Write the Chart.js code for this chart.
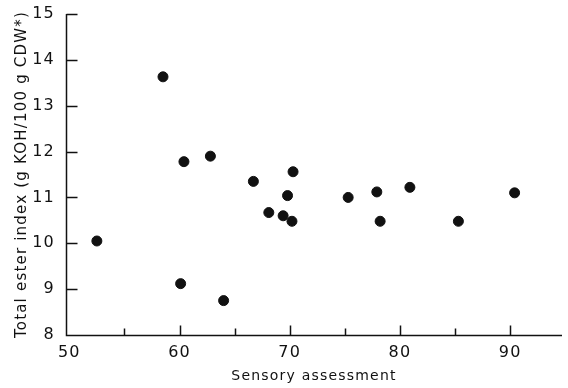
<!DOCTYPE html>
<html>
<head>
<meta charset="utf-8">
<script src="https://cdn.jsdelivr.net/npm/chart.js@4/dist/chart.umd.min.js"></script>
<style>
  html, body { margin: 0; padding: 0; background: #fff; }
  #wrap { width: 568px; height: 388px; }
</style>
</head>
<body>
<div id="wrap"><canvas id="chart"></canvas></div>
<script>
// data
const sensory = [52.5, 58.5, 60.4, 60.1, 62.8, 64.0, 66.7, 68.1, 69.4, 69.8, 70.2, 70.3, 75.3, 77.9, 78.2, 80.9, 85.3, 90.4]
const esterIndex = [10.05, 13.63, 11.78, 9.12, 11.9, 8.75, 11.35, 10.67, 10.6, 11.04, 10.48, 11.56, 11.0, 11.12, 10.48, 11.22, 10.48, 11.1]

const xTicks = [50, 55, 60, 65, 70, 75, 80, 85, 90]
const xLabels = [50, 60, 70, 80, 90]
const xTitle = "Sensory assessment"
const yTitle = "Total ester index (g KOH/100 g CDW*)"

const points = sensory.map((x, i) => ({x: x, y: esterIndex[i]}))

const ink = "#111"
const font = "'DejaVu Sans', sans-serif"

// nearest whole number, or null when the tick is an odd bound
function whole(v) {
    const r = Math.round(v)
    return Math.abs(v - r) < 1e-6 ? r : null
}

// the print has loosely tracked lettering
const tracking = {
    id: "tracking",
    beforeLayout(chart) { chart.ctx.letterSpacing = "1.2px" },
    beforeDraw(chart) { chart.ctx.letterSpacing = "1.2px" }
}

// axis lines, with ticks pointing into the plot like the printed figure
const axesAndTicks = {
    id: "axesAndTicks",
    afterDraw(chart) {
        const ctx = chart.ctx
        const xs = chart.scales.x
        const ys = chart.scales.y
        const left = ys.right + 0.5
        const bottom = xs.top + 0.5
        ctx.save()
        ctx.strokeStyle = ink
        ctx.lineWidth = 1.5
        ctx.beginPath()
        ctx.moveTo(left, ys.top)
        ctx.lineTo(left, bottom)
        ctx.lineTo(xs.right, bottom)
        xs.ticks.forEach(t => {
            const v = whole(t.value)
            if (v === null || v === 50) return
            const px = Math.round(xs.getPixelForValue(v)) + 0.5
            const len = xLabels.includes(v) ? 10 : 7
            ctx.moveTo(px, bottom)
            ctx.lineTo(px, bottom - len)
        })
        ys.ticks.forEach(t => {
            const py = Math.round(ys.getPixelForValue(t.value)) + 0.5
            ctx.moveTo(left, py)
            ctx.lineTo(left + 11, py)
        })
        ctx.stroke()
        ctx.restore()
    }
}

new Chart(document.getElementById("chart").getContext("2d"), {
    type: "scatter",
    data: {
        datasets: [{
            data: points,
            backgroundColor: ink,
            borderColor: ink,
            pointRadius: 5,
            pointHoverRadius: 5
        }]
    },
    options: {
        responsive: true,
        maintainAspectRatio: false,
        animation: false,
        events: [],
        layout: { padding: { top: 14, right: 1, left: 0, bottom: 0 } },
        plugins: {
            legend: { display: false },
            tooltip: { enabled: false }
        },
        scales: {
            x: {
                type: "linear",
                min: 49.7,
                max: 94.7,
                afterBuildTicks: s => {
                    s.ticks = xTicks.map(v => ({value: v}))
                },
                afterFit: s => { s.height = 53; s.paddingLeft = 0; s.paddingRight = 0 },
                grid: { display: false, drawTicks: false },
                border: { display: false },
                ticks: {
                    padding: 8,
                    color: ink,
                    maxRotation: 0,
                    autoSkip: false,
                    font: { family: font, size: 16 },
                    callback: v => xLabels.includes(whole(v)) ? String(whole(v)) : ""
                },
                title: {
                    display: true,
                    text: xTitle,
                    color: ink,
                    font: { family: font, size: 14 },
                    padding: { top: 0, bottom: 3 }
                }
            },
            y: {
                type: "linear",
                min: 8,
                max: 15,
                afterFit: s => { s.width = 66; s.paddingTop = 0; s.paddingBottom = 0 },
                grid: { display: false, drawTicks: false },
                border: { display: false },
                ticks: {
                    stepSize: 1,
                    padding: 11,
                    color: ink,
                    font: { family: font, size: 16 }
                },
                title: {
                    display: true,
                    text: yTitle,
                    color: ink,
                    font: { family: font, size: 15 },
                    padding: { top: 13, bottom: 0 }
                }
            }
        }
    },
    plugins: [tracking, axesAndTicks]
})
</script>
</body>
</html>
